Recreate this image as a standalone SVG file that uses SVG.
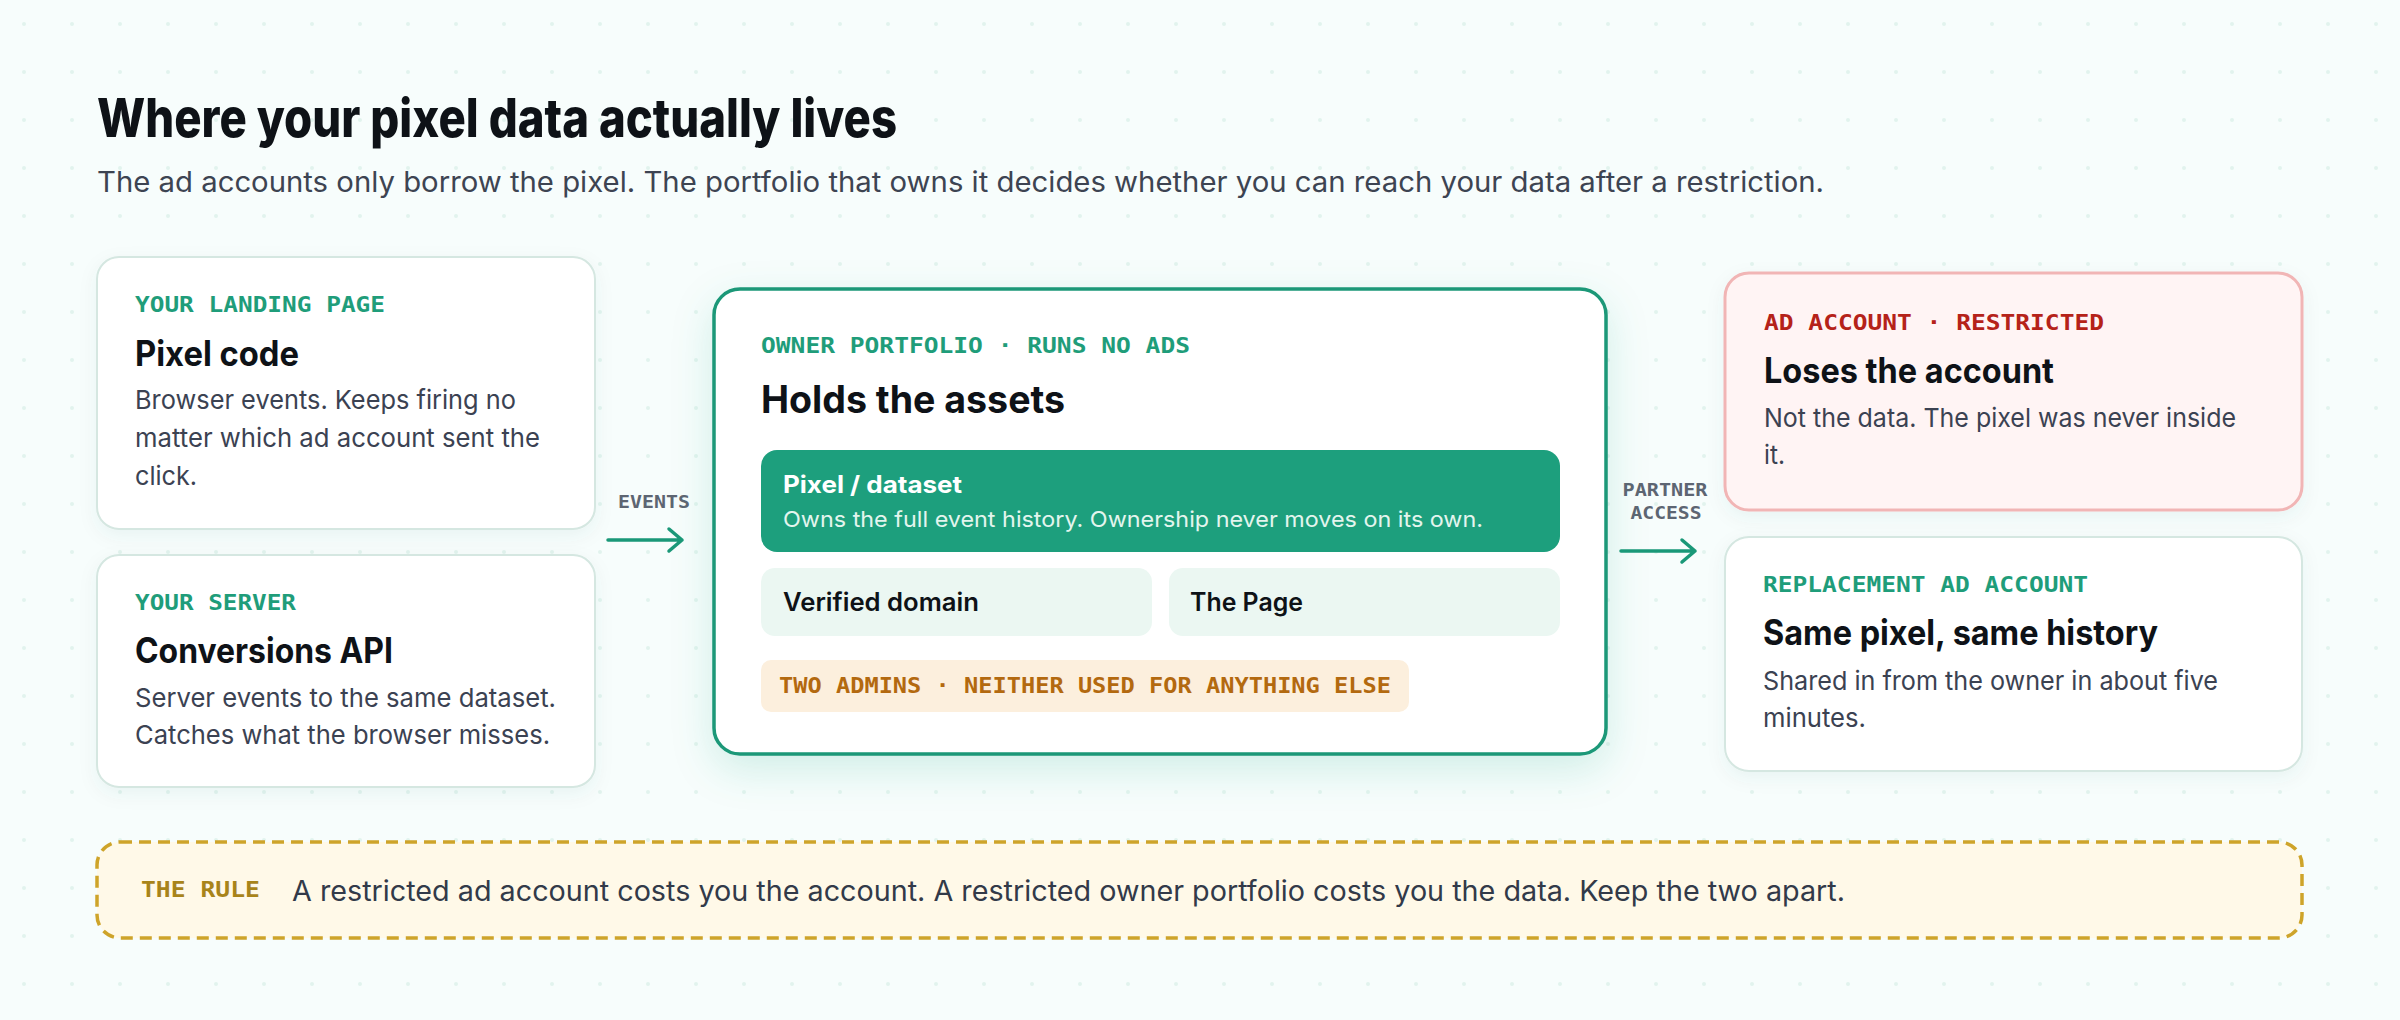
<svg xmlns="http://www.w3.org/2000/svg" width="2400" height="1020" viewBox="0 0 2400 1020">
<defs>
<pattern id="dots" x="0" y="0" width="48" height="48" patternUnits="userSpaceOnUse">
<circle cx="24" cy="24" r="2" fill="#e2f3ee"/>
</pattern>
<filter id="glow" x="-20%" y="-20%" width="140%" height="150%">
<feDropShadow dx="0" dy="14" stdDeviation="20" flood-color="#1a9e7c" flood-opacity="0.16"/>
</filter>
<filter id="soft" x="-10%" y="-10%" width="120%" height="130%">
<feDropShadow dx="0" dy="6" stdDeviation="9" flood-color="#2a6b5a" flood-opacity="0.06"/>
</filter>
<style>
.sans{font-family:Inter,"Noto Sans","Liberation Sans",sans-serif;}
.mono{font-family:"DejaVu Sans Mono","Liberation Mono",monospace;font-weight:700;}
.title{font-size:54px;font-weight:800;fill:#0e1217;}
.sub{font-size:28px;fill:#3d4452;}
.card{fill:#ffffff;stroke:#d5e7e1;stroke-width:2;}
.lab{font-size:22px;fill:#1f9d7a;}
.h{font-size:35px;font-weight:700;fill:#0e1217;}
.body{font-size:26px;fill:#3b4252;}
.edge{font-size:17px;fill:#5d6572;}
.arrow{stroke:#1a9878;stroke-width:3.5;fill:none;stroke-linecap:round;stroke-linejoin:round;}
</style>
</defs>
<rect width="2400" height="1020" fill="#f7fdfc"/>
<rect width="2400" height="1020" fill="url(#dots)"/>

<text class="sans title" x="97" y="137" textLength="800" lengthAdjust="spacingAndGlyphs">Where your pixel data actually lives</text>
<text class="sans sub" x="97" y="192" textLength="1727" lengthAdjust="spacingAndGlyphs">The ad accounts only borrow the pixel. The portfolio that owns it decides whether you can reach your data after a restriction.</text>

<g id="connectors">
<text class="mono edge" x="618" y="508" textLength="72" lengthAdjust="spacingAndGlyphs">EVENTS</text>
<path class="arrow" d="M608 540 H682 M669 529 L682 540 L669 551"/>
<text class="mono edge" x="1665" y="496" text-anchor="middle" textLength="85" lengthAdjust="spacingAndGlyphs">PARTNER</text>
<text class="mono edge" x="1666" y="519" text-anchor="middle" textLength="71" lengthAdjust="spacingAndGlyphs">ACCESS</text>
<path class="arrow" d="M1621 551 H1695 M1682 540 L1695 551 L1682 562"/>
</g>

<g id="landing-page">
<rect class="card" x="97" y="257" width="498" height="272" rx="22" filter="url(#soft)"/>
<text class="mono lab" x="135" y="312" textLength="250" lengthAdjust="spacingAndGlyphs">YOUR LANDING PAGE</text>
<text class="sans h" x="135" y="366" textLength="164" lengthAdjust="spacingAndGlyphs">Pixel code</text>
<text class="sans body" x="135" y="409" textLength="381" lengthAdjust="spacingAndGlyphs">Browser events. Keeps firing no</text>
<text class="sans body" x="135" y="447" textLength="405" lengthAdjust="spacingAndGlyphs">matter which ad account sent the</text>
<text class="sans body" x="135" y="485" textLength="62" lengthAdjust="spacingAndGlyphs">click.</text>
</g>

<g id="server">
<rect class="card" x="97" y="555" width="498" height="232" rx="22" filter="url(#soft)"/>
<text class="mono lab" x="135" y="610" textLength="161" lengthAdjust="spacingAndGlyphs">YOUR SERVER</text>
<text class="sans h" x="135" y="663" textLength="258" lengthAdjust="spacingAndGlyphs">Conversions API</text>
<text class="sans body" x="135" y="707" textLength="421" lengthAdjust="spacingAndGlyphs">Server events to the same dataset.</text>
<text class="sans body" x="135" y="744" textLength="415" lengthAdjust="spacingAndGlyphs">Catches what the browser misses.</text>
</g>

<g id="owner-portfolio">
<rect x="714" y="289" width="892" height="465" rx="26" fill="#ffffff" stroke="#1a9878" stroke-width="3.5" filter="url(#glow)"/>
<text class="mono lab" x="761" y="353" textLength="429" lengthAdjust="spacingAndGlyphs">OWNER PORTFOLIO · RUNS NO ADS</text>
<text class="sans h" x="761" y="413" style="font-size:38px" textLength="304" lengthAdjust="spacingAndGlyphs">Holds the assets</text>
<g id="pixel-dataset">
<rect x="761" y="450" width="799" height="102" rx="16" fill="#1d9f7d"/>
<text class="sans" x="783" y="493" font-size="24" font-weight="700" fill="#ffffff" textLength="179" lengthAdjust="spacingAndGlyphs">Pixel / dataset</text>
<text class="sans" x="783" y="527" font-size="22" fill="#e3f5ee" textLength="700" lengthAdjust="spacingAndGlyphs">Owns the full event history. Ownership never moves on its own.</text>
</g>
<g id="verified-domain">
<rect x="761" y="568" width="391" height="68" rx="14" fill="#ebf7f2"/>
<text class="sans" x="783" y="611" font-size="25" font-weight="600" fill="#0e1217" textLength="196" lengthAdjust="spacingAndGlyphs">Verified domain</text>
</g>
<g id="the-page">
<rect x="1169" y="568" width="391" height="68" rx="14" fill="#ebf7f2"/>
<text class="sans" x="1190" y="611" font-size="25" font-weight="600" fill="#0e1217" textLength="113" lengthAdjust="spacingAndGlyphs">The Page</text>
</g>
<g id="two-admins">
<rect x="761" y="660" width="648" height="52" rx="10" fill="#fcefdd"/>
<text class="mono" x="779" y="693" font-size="21" fill="#b3690f" textLength="612" lengthAdjust="spacingAndGlyphs">TWO ADMINS · NEITHER USED FOR ANYTHING ELSE</text>
</g>
</g>

<g id="restricted-account">
<rect x="1725" y="273" width="577" height="237" rx="24" fill="#fff4f4" stroke="#f1b5b5" stroke-width="3" filter="url(#soft)"/>
<text class="mono lab" x="1764" y="330" style="fill:#b52219" textLength="340" lengthAdjust="spacingAndGlyphs">AD ACCOUNT · RESTRICTED</text>
<text class="sans h" x="1764" y="383" textLength="290" lengthAdjust="spacingAndGlyphs">Loses the account</text>
<text class="sans body" x="1764" y="427" textLength="472" lengthAdjust="spacingAndGlyphs">Not the data. The pixel was never inside</text>
<text class="sans body" x="1764" y="464" textLength="21" lengthAdjust="spacingAndGlyphs">it.</text>
</g>

<g id="replacement-account">
<rect class="card" x="1725" y="537" width="577" height="234" rx="24" filter="url(#soft)"/>
<text class="mono lab" x="1763" y="592" textLength="325" lengthAdjust="spacingAndGlyphs">REPLACEMENT AD ACCOUNT</text>
<text class="sans h" x="1763" y="645" textLength="395" lengthAdjust="spacingAndGlyphs">Same pixel, same history</text>
<text class="sans body" x="1763" y="690" textLength="455" lengthAdjust="spacingAndGlyphs">Shared in from the owner in about five</text>
<text class="sans body" x="1763" y="727" textLength="103" lengthAdjust="spacingAndGlyphs">minutes.</text>
</g>

<g id="the-rule">
<rect x="97" y="842" width="2205" height="96" rx="23" fill="#fff9e8" stroke="#cea42a" stroke-width="3.5" stroke-dasharray="12 7"/>
<text class="mono" x="141" y="897" font-size="21" fill="#a8841a" textLength="119" lengthAdjust="spacingAndGlyphs">THE RULE</text>
<text class="sans" x="292" y="901" font-size="28" fill="#323a49" textLength="1553" lengthAdjust="spacingAndGlyphs">A restricted ad account costs you the account. A restricted owner portfolio costs you the data. Keep the two apart.</text>
</g>
</svg>
